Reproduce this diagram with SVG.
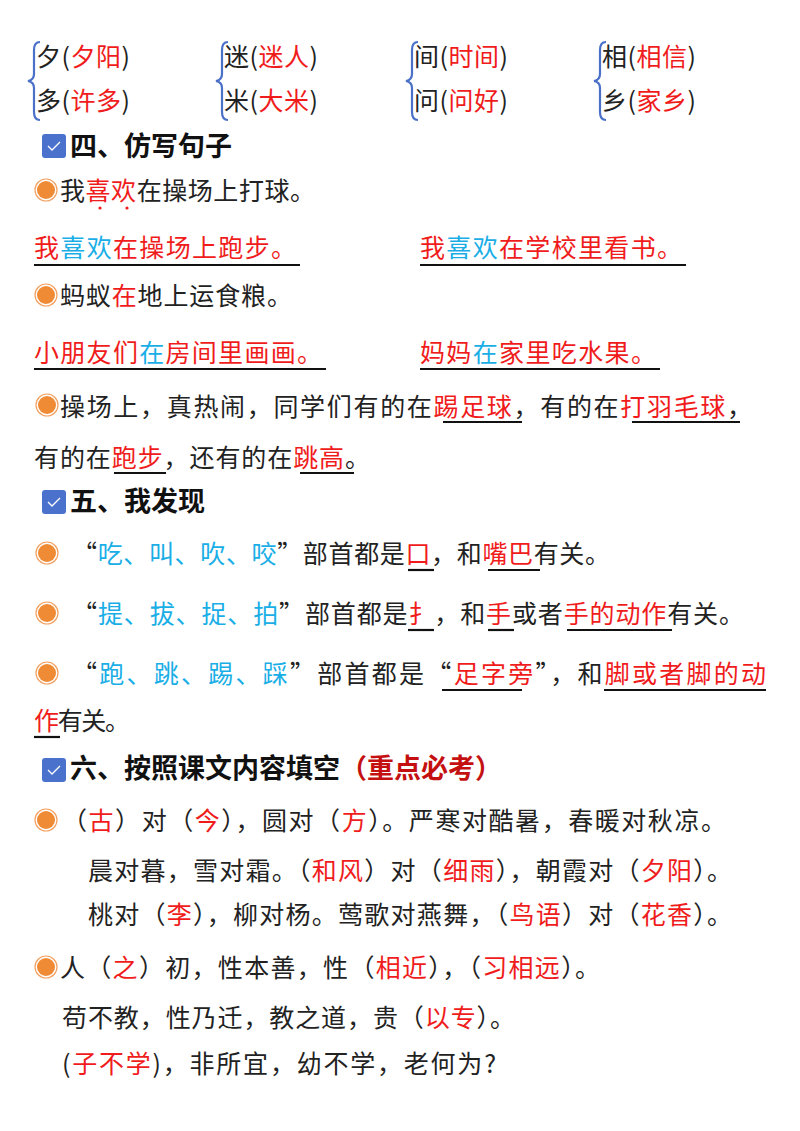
<svg xmlns="http://www.w3.org/2000/svg" width="800" height="1131" viewBox="0 0 800 1131">
<style>
text{font-family:"Noto Sans CJK SC","Noto Sans",sans-serif;font-size:25px;fill:#222}
.r{fill:#f01c1c}.b{fill:#1aaee6}.h{font-size:27px;font-weight:bold;fill:#111}.dr{fill:#c41010}
.br{fill:none;stroke:#4a70c8;stroke-width:2.2}
.u{stroke:#111;stroke-width:2.2}
.ring{fill:none;stroke:#f3a060;stroke-width:1.2}
</style>
<defs>
<g id="bul"><circle r="11" class="ring"/><circle r="9" fill="#ef8a35"/></g>
<g id="chk"><rect x="0" y="0" width="24" height="24" rx="3" fill="#4a72cc"/><path d="M6 12l4 4 8-8" fill="none" stroke="#fff" stroke-width="1.3"/></g>
</defs>
<rect width="800" height="1131" fill="#fff"/>
<g class="br">
<path d="M40 42q-6 0-6 8v24q0 6-6 7q6 1 6 7v24q0 8 6 8"/>
<path d="M228 42q-6 0-6 8v24q0 6-6 7q6 1 6 7v24q0 8 6 8"/>
<path d="M418 42q-6 0-6 8v24q0 6-6 7q6 1 6 7v24q0 8 6 8"/>
<path d="M606 42q-6 0-6 8v24q0 6-6 7q6 1 6 7v24q0 8 6 8"/>
</g>
<text x="36" y="66" textLength="94">夕(<tspan class="r">夕阳</tspan>)</text>
<text x="36" y="110" textLength="94">多(<tspan class="r">许多</tspan>)</text>
<text x="224" y="66" textLength="94">迷(<tspan class="r">迷人</tspan>)</text>
<text x="224" y="110" textLength="94">米(<tspan class="r">大米</tspan>)</text>
<text x="414" y="66" textLength="94">间(<tspan class="r">时间</tspan>)</text>
<text x="414" y="110" textLength="94">问(<tspan class="r">问好</tspan>)</text>
<text x="602" y="66" textLength="94">相(<tspan class="r">相信</tspan>)</text>
<text x="602" y="110" textLength="94">乡(<tspan class="r">家乡</tspan>)</text>

<use href="#chk" x="42" y="134"/>
<text x="70" y="156" class="h">四、仿写句子</text>
<use href="#bul" x="46" y="190"/>
<text x="60" y="200" textLength="255">我<tspan class="r">喜欢</tspan>在操场上打球。</text>
<circle cx="100" cy="208" r="1.6" fill="#f01c1c"/><circle cx="127" cy="208" r="1.6" fill="#f01c1c"/>
<text x="34" y="257" textLength="262" class="r">我<tspan class="b">喜欢</tspan>在操场上跑步。</text>
<line x1="34" y1="265" x2="300" y2="265" class="u"/>
<text x="420" y="257" textLength="262" class="r">我<tspan class="b">喜欢</tspan>在学校里看书。</text>
<line x1="420" y1="265" x2="686" y2="265" class="u"/>
<use href="#bul" x="46" y="295"/>
<text x="60" y="305" textLength="232">蚂蚁<tspan class="r">在</tspan>地上运食粮。</text>
<text x="34" y="362" textLength="288" class="r">小朋友们<tspan class="b">在</tspan>房间里画画。</text>
<line x1="34" y1="369" x2="326" y2="369" class="u"/>
<text x="420" y="362" textLength="236" class="r">妈妈<tspan class="b">在</tspan>家里吃水果。</text>
<line x1="420" y1="369" x2="660" y2="369" class="u"/>

<use href="#bul" x="47" y="405"/>
<text x="60" y="416" textLength="692">操场上，真热闹，同学们有的在<tspan class="r">踢足球</tspan>，有的在<tspan class="r">打羽毛球</tspan>，</text>
<line x1="443" y1="422" x2="522" y2="422" class="u"/>
<line x1="632" y1="422" x2="740" y2="422" class="u"/>
<text x="34" y="467" textLength="336">有的在<tspan class="r">跑步</tspan>，还有的在<tspan class="r">跳高</tspan>。</text>
<line x1="114" y1="473" x2="166" y2="473" class="u"/>
<line x1="300" y1="473" x2="354" y2="473" class="u"/>

<use href="#chk" x="42" y="490"/>
<text x="70" y="511" class="h">五、我发现</text>
<use href="#bul" x="47" y="553"/>
<text x="72" y="563" textLength="538">“<tspan class="b">吃、叫、吹、咬</tspan>”部首都是<tspan class="r">口</tspan>，和<tspan class="r">嘴巴</tspan>有关。</text>
<line x1="408" y1="570" x2="434" y2="570" class="u"/>
<line x1="488" y1="570" x2="540" y2="570" class="u"/>
<use href="#bul" x="47" y="613"/>
<text x="72" y="623" textLength="672">“<tspan class="b">提、拔、捉、拍</tspan>”部首都是<tspan class="r">扌</tspan>，和<tspan class="r">手</tspan>或者<tspan class="r">手的动作</tspan>有关。</text>
<line x1="408" y1="630" x2="434" y2="630" class="u"/>
<line x1="488" y1="630" x2="514" y2="630" class="u"/>
<line x1="567" y1="630" x2="672" y2="630" class="u"/>
<use href="#bul" x="47" y="673"/>
<text x="72" y="683" textLength="694">“<tspan class="b">跑、跳、踢、踩</tspan>”部首都是“<tspan class="r">足字旁</tspan>”，和<tspan class="r">脚或者脚的动</tspan></text>
<line x1="442" y1="690" x2="522" y2="690" class="u"/>
<line x1="604" y1="690" x2="766" y2="690" class="u"/>
<text x="34" y="730" textLength="96"><tspan class="r">作</tspan>有关。</text>
<line x1="34" y1="737" x2="60" y2="737" class="u"/>

<use href="#chk" x="42" y="758"/>
<text x="70" y="778" class="h">六、按照课文内容填空<tspan class="dr">（重点必考）</tspan></text>
<use href="#bul" x="46" y="820"/>
<text x="62" y="830" textLength="664">（<tspan class="r">古</tspan>）对（<tspan class="r">今</tspan>），圆对（<tspan class="r">方</tspan>）。严寒对酷暑，春暖对秋凉。</text>
<text x="88" y="880" textLength="644">晨对暮，雪对霜。（<tspan class="r">和风</tspan>）对（<tspan class="r">细雨</tspan>），朝霞对（<tspan class="r">夕阳</tspan>）。</text>
<text x="88" y="924" textLength="644">桃对（<tspan class="r">李</tspan>），柳对杨。莺歌对燕舞，（<tspan class="r">鸟语</tspan>）对（<tspan class="r">花香</tspan>）。</text>
<use href="#bul" x="46" y="967"/>
<text x="60" y="977" textLength="540">人（<tspan class="r">之</tspan>）初，性本善，性（<tspan class="r">相近</tspan>），（<tspan class="r">习相远</tspan>）。</text>
<text x="62" y="1027" textLength="453">苟不教，性乃迁，教之道，贵（<tspan class="r">以专</tspan>）。</text>
<text x="62" y="1073" textLength="434">(<tspan class="r">子不学</tspan>)，非所宜，幼不学，老何为?</text>
</svg>
